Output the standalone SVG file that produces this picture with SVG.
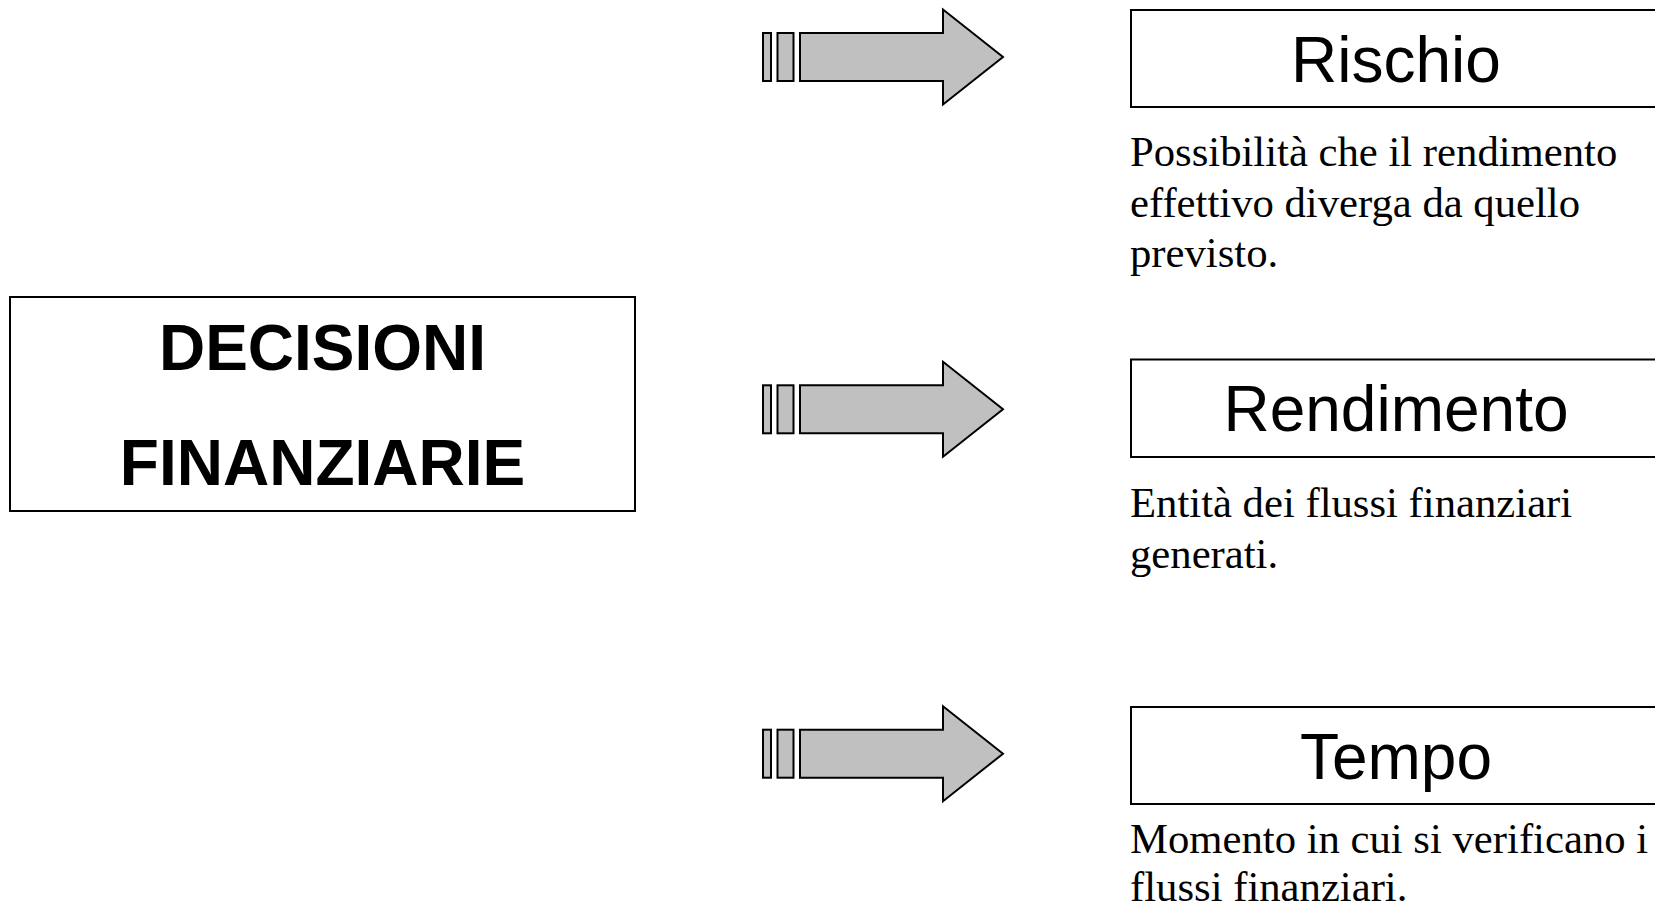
<svg xmlns="http://www.w3.org/2000/svg" xmlns:xlink="http://www.w3.org/1999/xlink" width="1655" height="907" viewBox="0 0 1655 907">
<style>
.box{fill:#fff;stroke:#000;stroke-width:2}
.arr{fill:#c0c0c0;stroke:#000;stroke-width:2;stroke-linejoin:miter}
.title{font-family:"Liberation Sans",Arial,sans-serif;font-size:64px;fill:#000;text-anchor:middle}
.main{font-family:"Liberation Sans",Arial,sans-serif;font-size:64px;font-weight:bold;fill:#000;text-anchor:middle}
.desc{font-family:"Liberation Serif","Times New Roman",serif;font-size:42.7px;fill:#000}
</style>
<defs>
<g id="arrowShape">
<rect class="arr" x="763" y="-24" width="8" height="48"/>
<rect class="arr" x="777.5" y="-24" width="16" height="48"/>
<polygon class="arr" points="800,-24 943,-24 943,-47.5 1003,0 943,47.5 943,24 800,24"/>
</g>
</defs>
<rect width="1655" height="907" fill="#fff"/>
<g id="connectors">
<use xlink:href="#arrowShape" transform="translate(0,57)"/>
<use xlink:href="#arrowShape" transform="translate(0,409.3)"/>
<use xlink:href="#arrowShape" transform="translate(0,753.7)"/>
</g>
<g id="decisioni">
<rect class="box" x="10" y="297" width="625" height="214"/>
<text class="main" x="322.5" y="370">DECISIONI</text>
<text class="main" x="322.5" y="485">FINANZIARIE</text>
</g>
<g id="rischio">
<rect class="box" x="1131" y="10" width="540" height="97"/>
<text class="title" x="1396" y="82">Rischio</text>
<text class="desc" x="1130" y="166">Possibilità che il rendimento</text>
<text class="desc" x="1130" y="217">effettivo diverga da quello</text>
<text class="desc" x="1130" y="267">previsto.</text>
</g>
<g id="rendimento">
<rect class="box" x="1131" y="359.5" width="540" height="97.5"/>
<text class="title" x="1396" y="431">Rendimento</text>
<text class="desc" x="1130" y="517">Entità dei flussi finanziari</text>
<text class="desc" x="1130" y="568">generati.</text>
</g>
<g id="tempo">
<rect class="box" x="1131" y="707" width="540" height="97"/>
<text class="title" x="1396" y="778.5">Tempo</text>
<text class="desc" x="1130" y="853">Momento in cui si verificano i</text>
<text class="desc" x="1130" y="901">flussi finanziari.</text>
</g>
</svg>
